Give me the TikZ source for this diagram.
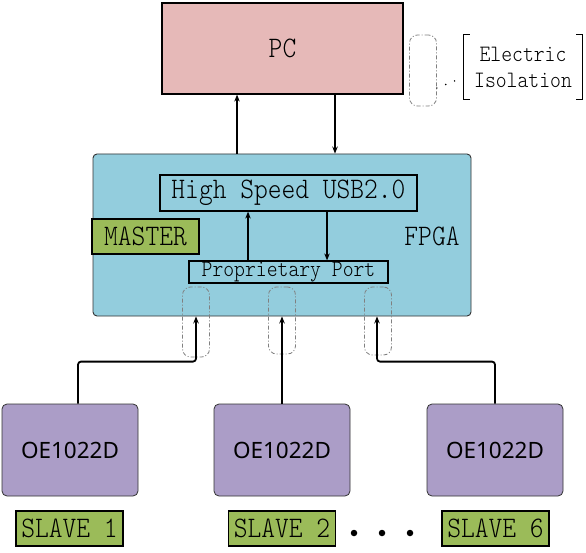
\documentclass[tikz,border=0pt]{standalone}
\usepackage{fontspec}
\newfontfamily\oefont{Noto Sans}
\newfontfamily\simfont{lmmonolt10-regular.otf}[FakeStretch=0.88]
\usetikzlibrary{arrows.meta,positioning,calc}

\definecolor{pcpink}{HTML}{E6B9B8}
\definecolor{fpgablue}{HTML}{93CDDD}
\definecolor{taggreen}{HTML}{9BBB59}
\definecolor{oepurple}{HTML}{AB9DC7}
\definecolor{isogray}{HTML}{808080}

\newcommand{\bigtt}{\fontsize{29.8}{30}\selectfont\simfont}
\newcommand{\smalltt}{\fontsize{23.5}{26}\selectfont\simfont}

\begin{document}
\begin{tikzpicture}[x=1pt, y=-1pt, >={Stealth[length=7pt,width=5.5pt]},
    blk/.style={draw, line width=1.2pt, inner sep=0pt},
    pcbox/.style={blk, fill=pcpink, minimum width=241pt, minimum height=91pt, font=\bigtt},
    fpgabox/.style={draw=black!80, line width=0.9pt, fill=fpgablue, rounded corners=4pt,
      minimum width=378pt, minimum height=162pt, inner sep=0pt},
    portbox/.style={blk, font=\bigtt},
    tagbox/.style={blk, fill=taggreen, minimum width=107pt, minimum height=35pt, font=\bigtt},
    oebox/.style={draw=black!80, line width=0.8pt, fill=oepurple, rounded corners=5pt,
      minimum width=136pt, minimum height=92pt, font=\oefont\fontsize{22.5}{24}\selectfont},
    isobox/.style={draw=isogray, line width=0.8pt, rounded corners=8pt,
      dash pattern=on 4pt off 2pt on 1pt off 2pt, minimum width=27pt, minimum height=69pt, inner sep=0pt},
    link/.style={->, line width=1.8pt, rounded corners=3pt},
    ellip/.style={circle, fill=black, inner sep=2.3pt}]
  \useasboundingbox[fill=white] (0,0) rectangle (586,553);

  % PC and isolation note
  \node[pcbox] (pc) at (282.5,48.5) {PC};
  \node[isobox, minimum height=71pt] (isopc) at (423,70.5) {};
  \node[font=\smalltt, align=center, minimum width=118pt, minimum height=64pt, inner sep=0pt]
    (note) at (523,67) {Electric\\Isolation};
  \draw[line width=0.8pt] ([xshift=6pt]note.north west) -- (note.north west)
    -- (note.south west) -- ([xshift=6pt]note.south west);
  \draw[line width=0.8pt] ([xshift=-6pt]note.north east) -- (note.north east)
    -- (note.south east) -- ([xshift=-6pt]note.south east);
  \coordinate (leadend) at (457,80);
  \draw[line width=1.6pt, line cap=round, dash pattern=on 0pt off 9.5pt] (isopc.east |- 0,88) -- (leadend);

  % FPGA with its blocks
  \node[fpgabox] (fpga) at (282,235) {};
  \node[portbox, minimum width=257pt, minimum height=36pt] (usb) at (288.5,193) {High Speed USB2.0};
  \node[portbox, minimum width=199pt, minimum height=22pt, font=\smalltt] (prop) at (288.5,272) {Proprietary Port};
  \node[tagbox] (master) at (145.5,236.5) {MASTER};
  \node[font=\bigtt] (fpgalbl) at (432,236) {FPGA};

  % isolation on each port
  \node[isobox, minimum height=70pt] (iso1) at (196,322) {};
  \node[isobox, minimum height=67pt] (iso2) at (282,320.5) {};
  \node[isobox, minimum height=68pt] (iso3) at (378,321) {};

  % slaves
  \node[oebox] (oe1) at (70,450) {OE1022D};
  \node[oebox] (oe2) at (282,450) {OE1022D};
  \node[oebox] (oe3) at (495,450) {OE1022D};
  \node[tagbox] (slave1) at (69.5,528.5) {SLAVE 1};
  \node[tagbox] (slave2) at (282,528.5) {SLAVE 2};
  \node[tagbox] (slave6) at (495.5,528.5) {SLAVE 6};
  \node[ellip] (d1) at (354,533) {};
  \node[ellip] (d2) at (382,533) {};
  \node[ellip] (d3) at (410,533) {};

  % PC <-> FPGA
  \draw[link] ([xshift=-45pt]fpga.north) -- ([xshift=-45pt]fpga.north |- pc.south);
  \draw[link] ([xshift=53pt]fpga.north |- pc.south) -- ([xshift=53pt]fpga.north);

  % USB <-> port
  \draw[link] ([xshift=-40.5pt]prop.north) -- ([xshift=-40.5pt]prop.north |- usb.south);
  \draw[link] ([xshift=38.5pt]prop.north |- usb.south) -- ([xshift=38.5pt]prop.north);

  % slaves to port
  \draw[link] ([xshift=8pt]oe1.north) -- ++(0,-42) -| (iso1 |- fpga.south);
  \draw[link] (oe2.north) -- (iso2 |- fpga.south);
  \draw[link] (oe3.north) -- ++(0,-42) -| ([xshift=-1pt]iso3.center |- fpga.south);
\end{tikzpicture}
\end{document}
